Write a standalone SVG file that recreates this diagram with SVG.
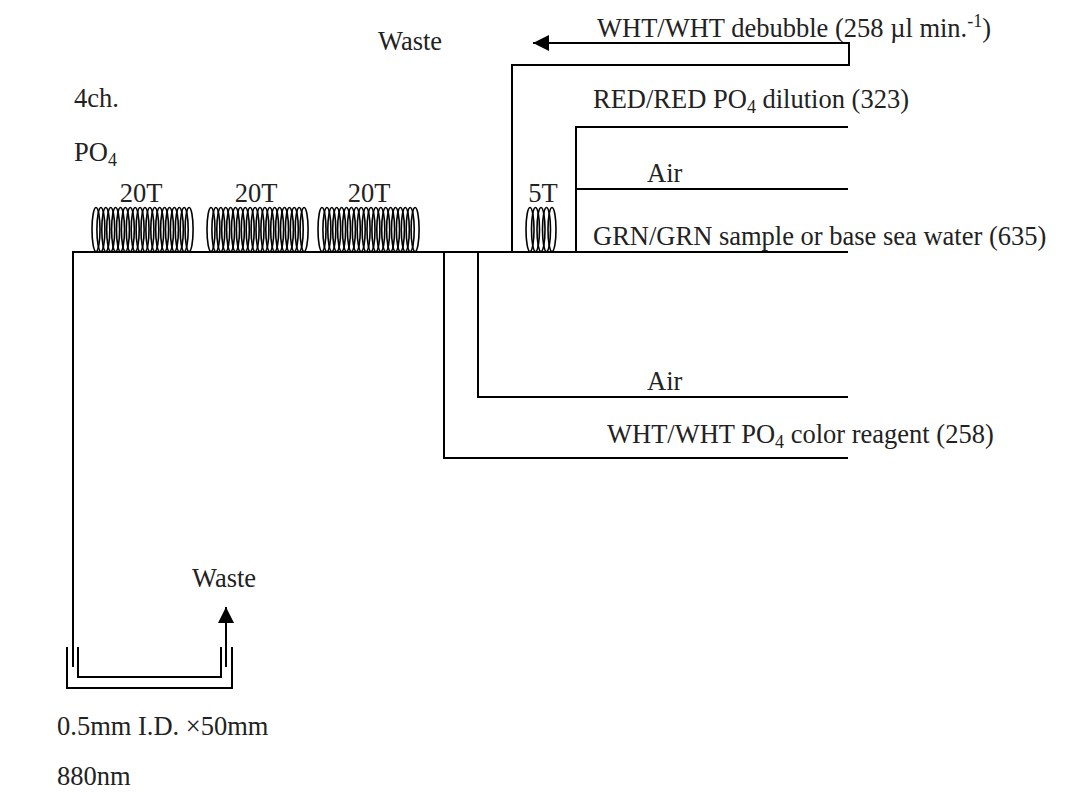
<svg xmlns="http://www.w3.org/2000/svg" width="1077" height="795" viewBox="0 0 1077 795">
<defs>
<style>
text{font-family:"Liberation Serif","Times New Roman",serif;font-size:26.5px;fill:#222;}
.sub{font-size:18px;}
.ln{fill:none;stroke:#000;stroke-width:2;}
.coil ellipse{fill:none;stroke:#000;stroke-width:1.6;}
</style>
<marker id="arrB" viewBox="0 0 16 16" refX="16" refY="8" markerWidth="16" markerHeight="16" markerUnits="userSpaceOnUse" orient="auto">
<path d="M0,0 L16,8 L0,16 z" fill="#000"/>
</marker>
</defs>
<rect width="1077" height="795" fill="#fff"/>
<g id="connectors">
<polyline class="ln" points="848,252 73,252 73,667"/>
<polyline class="ln" points="512,252 512,65 849,65 849,43 533,43" marker-end="url(#arrB)"/>
<polyline class="ln" points="848,127 576,127 576,252"/>
<line class="ln" x1="576" y1="189" x2="848" y2="189"/>
<polyline class="ln" points="848,397 478,397 478,252"/>
<polyline class="ln" points="848,458 444,458 444,252"/>
<line class="ln" x1="226" y1="667" x2="226" y2="607" marker-end="url(#arrB)"/>
</g>
<g id="flowcell">
<polyline class="ln" points="67,647 67,688 232,688 232,647"/>
<polyline class="ln" points="78,647 78,677 221,677 221,647"/>
</g>
<g id="coil1" class="coil">
<ellipse cx="96" cy="229.5" rx="4" ry="22"/><ellipse cx="100.9" cy="229.5" rx="4" ry="22"/><ellipse cx="105.8" cy="229.5" rx="4" ry="22"/><ellipse cx="110.7" cy="229.5" rx="4" ry="22"/><ellipse cx="115.6" cy="229.5" rx="4" ry="22"/><ellipse cx="120.5" cy="229.5" rx="4" ry="22"/><ellipse cx="125.4" cy="229.5" rx="4" ry="22"/><ellipse cx="130.3" cy="229.5" rx="4" ry="22"/><ellipse cx="135.2" cy="229.5" rx="4" ry="22"/><ellipse cx="140.1" cy="229.5" rx="4" ry="22"/><ellipse cx="145" cy="229.5" rx="4" ry="22"/><ellipse cx="149.9" cy="229.5" rx="4" ry="22"/><ellipse cx="154.8" cy="229.5" rx="4" ry="22"/><ellipse cx="159.7" cy="229.5" rx="4" ry="22"/><ellipse cx="164.6" cy="229.5" rx="4" ry="22"/><ellipse cx="169.5" cy="229.5" rx="4" ry="22"/><ellipse cx="174.4" cy="229.5" rx="4" ry="22"/><ellipse cx="179.3" cy="229.5" rx="4" ry="22"/><ellipse cx="184.2" cy="229.5" rx="4" ry="22"/><ellipse cx="189.1" cy="229.5" rx="4" ry="22"/>
<text x="141" y="202" text-anchor="middle">20T</text>
</g>
<g id="coil2" class="coil">
<ellipse cx="211" cy="229.5" rx="4" ry="22"/><ellipse cx="215.9" cy="229.5" rx="4" ry="22"/><ellipse cx="220.8" cy="229.5" rx="4" ry="22"/><ellipse cx="225.7" cy="229.5" rx="4" ry="22"/><ellipse cx="230.6" cy="229.5" rx="4" ry="22"/><ellipse cx="235.5" cy="229.5" rx="4" ry="22"/><ellipse cx="240.4" cy="229.5" rx="4" ry="22"/><ellipse cx="245.3" cy="229.5" rx="4" ry="22"/><ellipse cx="250.2" cy="229.5" rx="4" ry="22"/><ellipse cx="255.1" cy="229.5" rx="4" ry="22"/><ellipse cx="260" cy="229.5" rx="4" ry="22"/><ellipse cx="264.9" cy="229.5" rx="4" ry="22"/><ellipse cx="269.8" cy="229.5" rx="4" ry="22"/><ellipse cx="274.7" cy="229.5" rx="4" ry="22"/><ellipse cx="279.6" cy="229.5" rx="4" ry="22"/><ellipse cx="284.5" cy="229.5" rx="4" ry="22"/><ellipse cx="289.4" cy="229.5" rx="4" ry="22"/><ellipse cx="294.3" cy="229.5" rx="4" ry="22"/><ellipse cx="299.2" cy="229.5" rx="4" ry="22"/><ellipse cx="304.1" cy="229.5" rx="4" ry="22"/>
<text x="256" y="202" text-anchor="middle">20T</text>
</g>
<g id="coil3" class="coil">
<ellipse cx="322" cy="229.5" rx="4" ry="22"/><ellipse cx="326.9" cy="229.5" rx="4" ry="22"/><ellipse cx="331.8" cy="229.5" rx="4" ry="22"/><ellipse cx="336.7" cy="229.5" rx="4" ry="22"/><ellipse cx="341.6" cy="229.5" rx="4" ry="22"/><ellipse cx="346.5" cy="229.5" rx="4" ry="22"/><ellipse cx="351.4" cy="229.5" rx="4" ry="22"/><ellipse cx="356.3" cy="229.5" rx="4" ry="22"/><ellipse cx="361.2" cy="229.5" rx="4" ry="22"/><ellipse cx="366.1" cy="229.5" rx="4" ry="22"/><ellipse cx="371" cy="229.5" rx="4" ry="22"/><ellipse cx="375.9" cy="229.5" rx="4" ry="22"/><ellipse cx="380.8" cy="229.5" rx="4" ry="22"/><ellipse cx="385.7" cy="229.5" rx="4" ry="22"/><ellipse cx="390.6" cy="229.5" rx="4" ry="22"/><ellipse cx="395.5" cy="229.5" rx="4" ry="22"/><ellipse cx="400.4" cy="229.5" rx="4" ry="22"/><ellipse cx="405.3" cy="229.5" rx="4" ry="22"/><ellipse cx="410.2" cy="229.5" rx="4" ry="22"/><ellipse cx="415.1" cy="229.5" rx="4" ry="22"/>
<text x="369" y="202" text-anchor="middle">20T</text>
</g>
<g id="coil4" class="coil">
<ellipse cx="530" cy="229.5" rx="4" ry="22"/><ellipse cx="535.5" cy="229.5" rx="4" ry="22"/><ellipse cx="541" cy="229.5" rx="4" ry="22"/><ellipse cx="546.5" cy="229.5" rx="4" ry="22"/><ellipse cx="552" cy="229.5" rx="4" ry="22"/>
<text x="543" y="202" text-anchor="middle">5T</text>
</g>
<g id="labels">
<text x="74" y="107">4ch.</text>
<text x="74" y="161">PO<tspan class="sub" dy="5">4</tspan></text>
<text x="378" y="50">Waste</text>
<text x="597" y="37">WHT/WHT debubble (258 µl min.<tspan class="sub" dy="-10">-1</tspan><tspan dy="10">)</tspan></text>
<text x="593" y="108">RED/RED PO<tspan class="sub" dy="5">4</tspan><tspan dy="-5"> dilution (323)</tspan></text>
<text x="647" y="182">Air</text>
<text x="593" y="245">GRN/GRN sample or base sea water (635)</text>
<text x="647" y="390">Air</text>
<text x="607" y="443">WHT/WHT PO<tspan class="sub" dy="5">4</tspan><tspan dy="-5"> color reagent (258)</tspan></text>
<text x="192" y="587">Waste</text>
<text x="57" y="735">0.5mm I.D. ×50mm</text>
<text x="57" y="785">880nm</text>
</g>
</svg>
